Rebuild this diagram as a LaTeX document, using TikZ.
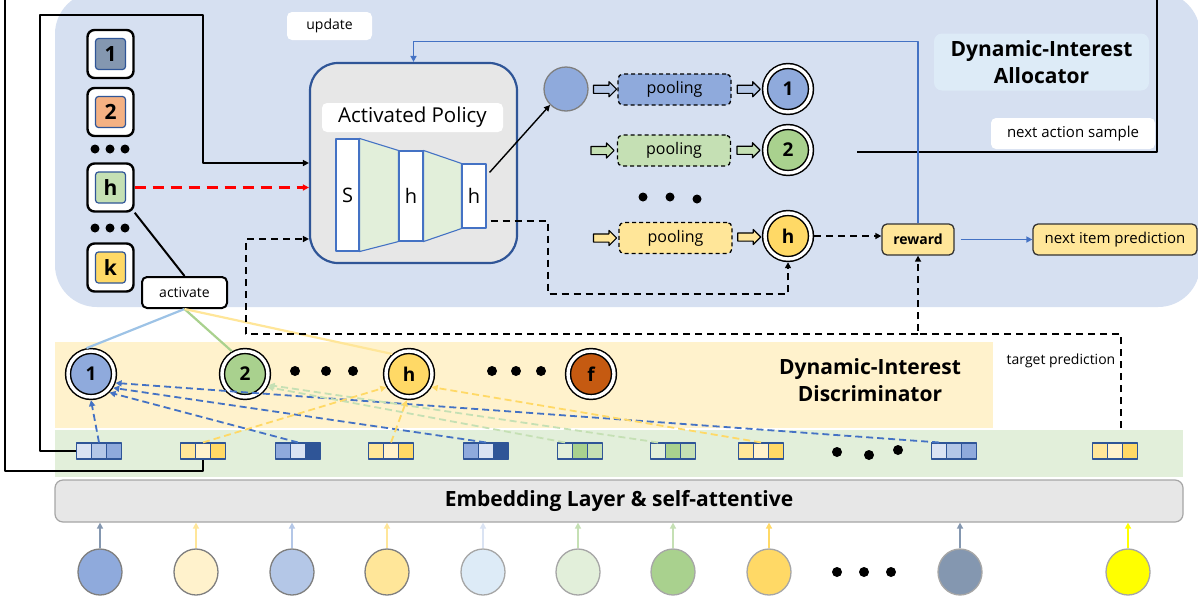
\documentclass[tikz,border=0pt]{standalone}
\usepackage{fontspec}
\setmainfont{Open Sans}
\usetikzlibrary{calc,arrows.meta,shapes.arrows,shapes.geometric}
\definecolor{allocbg}{RGB}{214,224,241}
\definecolor{discbg}{RGB}{255,242,204}
\definecolor{embbg}{RGB}{226,239,218}
\definecolor{laygray}{RGB}{231,231,231}
\definecolor{dblue}{RGB}{47,85,151}
\definecolor{mblue}{RGB}{68,114,196}
\definecolor{cblue}{RGB}{143,170,220}
\definecolor{lblue}{RGB}{180,199,231}
\definecolor{pblue}{RGB}{218,227,243}
\definecolor{sblue}{RGB}{157,195,230}
\definecolor{skyband}{RGB}{221,235,247}
\definecolor{cgreen}{RGB}{169,209,142}
\definecolor{lgreen}{RGB}{197,224,180}
\definecolor{pgreen}{RGB}{226,239,218}
\definecolor{cgold}{RGB}{255,217,102}
\definecolor{lgold}{RGB}{255,230,153}
\definecolor{pgold}{RGB}{255,242,204}
\definecolor{slate}{RGB}{132,151,176}
\definecolor{salmon}{RGB}{244,177,131}
\definecolor{rust}{RGB}{197,90,17}
\definecolor{midgray}{RGB}{127,127,127}
\definecolor{softgray}{RGB}{166,166,166}
\definecolor{brightyellow}{RGB}{255,255,0}
\newcommand{\pxfont}[1]{\fontsize{#1}{#1}\selectfont}

\begin{document}
\begin{tikzpicture}[x=1pt, y=-1pt, line join=round,
  >={Triangle[length=6pt, width=6pt]},
  kbox/.style={draw, line width=2.4pt, rounded corners=7pt, fill=white, minimum width=46pt, minimum height=48pt},
  kin/.style={draw=dblue, line width=1.2pt, rounded corners=3pt, minimum width=30pt, minimum height=31pt, inner sep=0pt, font=\pxfont{21}\bfseries},
  ring/.style={circle, draw=black, line width=1.5pt, double=white, double distance=3.4pt, minimum size=46pt, inner sep=0pt, outer sep=3.2pt, font=\pxfont{19}\bfseries},
  pool/.style={draw, dash pattern=on 4pt off 3pt, line width=1.3pt, rounded corners=5pt, minimum width=113pt, minimum height=31pt, font=\pxfont{16}},
  blk/.style={single arrow, draw, line width=1.1pt, minimum height=23pt, inner sep=3.5pt, single arrow head extend=3.5pt},
  tag/.style={fill=white, rounded corners=5pt, inner sep=0pt},
  lay/.style={draw=mblue, line width=1.1pt, fill=white, minimum width=24pt, inner sep=0pt, font=\pxfont{20}},
  cell/.style={draw=dblue, line width=1.1pt, minimum width=15pt, minimum height=16pt, inner sep=0pt},
  item/.style={ellipse, draw, line width=1.3pt, minimum width=44pt, minimum height=46pt},
  bdash/.style={dash pattern=on 7pt off 4pt, line width=1.8pt},
  kdash/.style={dash pattern=on 7pt off 5pt, line width=1.7pt},
  goldbox/.style={draw=black!80, fill=lgold, line width=1.3pt, rounded corners=5pt, minimum height=31pt},
]
\useasboundingbox (0,0) rectangle (1198,600);
\fill[white] (0,0) rectangle (1198,600);

% Backgrounds
\fill[allocbg, rounded corners=42pt] (55,-8) rectangle (1200,307);
\fill[discbg] (55,342) rectangle (993,428);
\fill[embbg] (55,430) rectangle (1183,477);

% Interest slots
\node[kbox] (k1) at (110.5,54) {};
\node[kin, fill=slate] (k1in) at (k1) {1};
\node[kbox] (k2) at (110.5,112) {};
\node[kin, fill=salmon] (k2in) at (k2) {2};
\node[kbox] (kh) at (110.5,187.5) {};
\node[kin, fill=lgreen] (khin) at (kh) {h};
\node[kbox] (kk) at (110.5,267.5) {};
\node[kin, fill=cgold] (kkin) at (kk) {k};
\foreach \yy in {149,228}
  \foreach \xx in {95,110,125}
    \fill (\xx,\yy) circle (4.5);

\node[draw, line width=2pt, fill=white, rounded corners=5pt, minimum width=85pt, minimum height=31pt, font=\pxfont{14}] (act) at (184.5,292.5) {activate};
\node[tag, minimum width=85pt, minimum height=28pt, font=\pxfont{14}] (upd) at (329.5,26) {update};

% Activated policy
\node[draw=dblue, line width=2.2pt, fill=laygray, rounded corners=28pt, minimum width=207pt, minimum height=200pt] (policy) at (413.5,163) {};
\node[tag, minimum width=181pt, minimum height=29pt, font=\pxfont{20.5}] (ptitle) at (412.5,117.5) {Activated Policy};
\node[lay, minimum width=23pt, minimum height=112pt] (layS) at (347.5,195) {S};
\node[lay, minimum height=90pt] (layH1) at (411,196) {h};
\node[lay, minimum height=64pt] (layH2) at (474,196) {h};
\draw[mblue, fill=pgreen, line width=1.1pt] (layS.north east) -- (layH1.north west) -- (layH1.south west) -- (layS.south east) -- cycle;
\draw[mblue, fill=pgreen, line width=1.1pt] (layH1.north east) -- (layH2.north west) -- (layH2.south west) -- (layH1.south east) -- cycle;

% Pooling rows
\node[circle, draw=midgray, fill=cblue, line width=1.3pt, minimum size=44pt] (pc) at (566,89) {};
\node[pool, fill=cblue] (p1) at (674.5,89.5) {pooling};
\node[pool, fill=lgreen] (p2) at (674,150.5) {pooling};
\node[pool, fill=lgold] (p3) at (675.5,238) {pooling};
\node[ring, fill=cblue] (o1) at (788,89) {1};
\node[ring, fill=cgreen] (o2) at (788,150) {2};
\node[ring, fill=cgold] (oh) at (788,236) {h};
\node[blk, fill=lblue] (a1) at ($(pc.east)!0.5!(p1.west)$) {};
\node[blk, fill=lblue] (b1) at ($(p1.east)!0.5!(o1.west)$) {};
\node[blk, fill=lgreen] (a2) at (600.5,150.5) {};
\node[blk, fill=lgreen] (b2) at ($(p2.east)!0.5!(o2.west)$) {};
\node[blk, fill=lgold] (a3) at (603,238) {};
\node[blk, fill=lgold] (b3) at ($(p3.east)!0.5!(oh.west)$) {};
\fill (643,197) circle (4.5) (670,197) circle (4.5) (697,199) circle (4.5);

% Reward and outputs
\node[goldbox, minimum width=72pt, font=\pxfont{14}\bfseries] (reward) at (918,239.5) {reward};
\node[goldbox, minimum width=164pt, font=\pxfont{15}] (nip) at (1115,239.5) {next item prediction};
\node[tag, minimum width=164pt, minimum height=31pt, font=\pxfont{15}] (nas) at (1073,133.5) {next action sample};
\node[fill=skyband, rounded corners=8pt, minimum width=215pt, minimum height=57pt, align=center, font=\pxfont{21}\bfseries] (alloc) at (1041.5,62) {Dynamic-Interest\\[6pt]Allocator};

% Discriminator
\node[ring, fill=cblue] (c1) at (91,374) {1};
\node[ring, fill=cgreen] (c2) at (245,374) {2};
\node[ring, fill=cgold] (ch) at (409,374) {h};
\node[ring, fill=rust] (cf) at (591,374) {f};
\foreach \xx in {295,326,353,492,516,541}
  \fill (\xx,371) circle (5);
\node[align=center, font=\pxfont{21}\bfseries] (disc) at (870,380) {Dynamic-Interest\\[6pt]Discriminator};
\node[font=\pxfont{14}] (tptext) at (1061,361) {target prediction};

% Sequence embeddings
\foreach \n/\xx/\ca/\cb/\cc in {1/99/pblue/lblue/cblue, 2/203/lgold/pgold/cgold, 3/298/cblue/pblue/dblue, 4/391/lgold/pgold/cgold, 5/486/cblue/pblue/dblue, 6/580/pgreen/cgreen/lgreen, 7/673/pgreen/cgreen/lgreen, 8/761/lgold/pgold/cgold, 9/954/pblue/lblue/cblue, 10/1115/lgold/pgold/cgold}{
  \node[cell, fill=\ca] (t\n-a) at (\xx-15,451) {};
  \node[cell, fill=\cb] (t\n-b) at (\xx,451) {};
  \node[cell, fill=\cc] (t\n-c) at (\xx+15,451) {};
}
\fill (837,452) circle (5) (869,455) circle (5) (898,450) circle (5);
\node[draw=softgray, fill=laygray, line width=1.2pt, rounded corners=8pt, minimum width=1128pt, minimum height=42pt, font=\pxfont{21}\bfseries] (emb) at (619,501) {Embedding Layer \& self-attentive};

% Input items
\foreach \n/\xx/\cf/\cd/\ca in {1/100/cblue/midgray/slate, 2/196/pgold/midgray/lgold, 3/292/lblue/midgray/lblue, 4/387/lgold/midgray/lgold, 5/483/skyband/softgray/pblue, 6/578/pgreen/softgray/lgreen, 7/673/cgreen/softgray/lgreen, 8/769/cgold/softgray/cgold, 10/960/slate/softgray/slate, 11/1128/brightyellow/softgray/brightyellow}{
  \node[item, fill=\cf, draw=\cd] (e\n) at (\xx,572) {};
  \draw[->, \ca, line width=1.6pt] (e\n.north) -- (e\n.north |- emb.south);
}
\fill (837,572) circle (5) (864,572) circle (5) (891,572) circle (5);

% Arrows
\draw[->, line width=1.8pt] (t1-a.west) -- (40,451) -- (40,15) -- (203,15) |- (policy.west);
\coordinate (nxt) at (857,152);
\draw[line width=1.8pt] (nxt) -- (1157,152) -- (1157,-10) -- (5,-10) -- (5,471) -| (t2-b.south);
\draw[->, red, line width=2.6pt, dash pattern=on 11pt off 7pt] (kh.east) -- (policy.west |- kh.east);
\draw[line width=2pt] (kh.south east) -- (act.north);
\draw[sblue, line width=2.2pt] (act.south) -- (c1.100);
\draw[cgreen, line width=2.2pt] (act.south) -- (c2.120);
\draw[lgold, line width=2.2pt] (act.south) -- (ch.130);
\draw[->, line width=1.4pt] ($(layH2.north east)+(3,9)$) -- (pc.225);
\draw[->, kdash] ($(layH2.east)+(4,25)$) -- (548,221) -- (548,294) -| (oh.south);
\draw[->, kdash] (oh.east) -- (reward.west |- oh.east);
\draw[->, mblue, line width=1.5pt] (reward.north) -- ++(0,-182) -| (policy.north);
\draw[->, mblue, line width=1.5pt, shorten <=6pt] (reward.east) -- (nip.west);
\coordinate (tpend) at (1121,428);
\coordinate (tp) at (918,334);
\draw[->, kdash] (tpend) |- (tp) -- (reward.south);
\draw[->, kdash] (tp) -- (246,334) |- (policy.west |- 0,239);

% Discriminator links
\draw[->, mblue, bdash] (t1-b.north) -- (c1.south);
\draw[->, mblue, bdash] (t3-b.north) -- (c1.-45);
\draw[->, mblue, bdash] (t5-b.north) -- (c1.-32);
\draw[->, mblue, bdash] (t9-a.north) -- (c1.-20);
\draw[->, lgreen, bdash] (t6-a.north) -- (c2.-30);
\draw[->, lgreen, bdash] (t7-a.north) -- (c2.-25);
\draw[->, cgold, bdash] (t2-b.north) -- (ch.210);
\draw[->, cgold, bdash] (t4-b.north) -- (ch.-95);
\draw[->, cgold, bdash] (t8-b.north) -- (ch.-30);
\end{tikzpicture}
\end{document}
